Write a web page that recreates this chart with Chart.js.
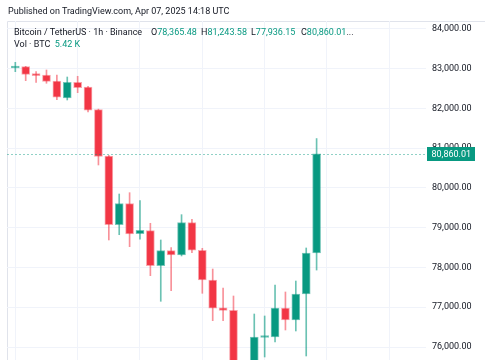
<!DOCTYPE html>
<html>
<head>
<meta charset="utf-8">
<script src="https://cdn.jsdelivr.net/npm/chart.js@4"></script>
<style>
  html, body { margin: 0; padding: 0; background: #ffffff; }
  #wrap { position: relative; width: 485px; height: 360px; overflow: hidden; font-family: Roboto, "Noto Sans", sans-serif; color: #131722; }
  #c { position: absolute; left: 0; top: 0; }
  .t { position: absolute; font-size: 9px; line-height: 12px; white-space: nowrap; }
  .v { color: #089981; }
</style>
</head>
<body>
<div id="wrap">
  <canvas id="c" width="485" height="360"></canvas>
  <div class="t" style="left:8px; top:5px;">Published on TradingView.com, Apr 07, 2025 14:18 UTC</div>
  <div class="t" style="left:14px; top:26px;">Bitcoin / TetherUS · 1h · Binance</div>
  <div class="t" style="left:151px; top:26px;">O<span class="v">78,365.48</span></div>
  <div class="t" style="left:201px; top:26px;">H<span class="v">81,243.58</span></div>
  <div class="t" style="left:251px; top:26px;">L<span class="v">77,936.15</span></div>
  <div class="t" style="left:301px; top:26px;">C<span class="v">80,860.01</span>...</div>
  <div class="t" style="left:14px; top:38px;">Vol · BTC&nbsp;&nbsp;<span class="v">5.42 K</span></div>
</div>
<script>
// Candle index (hourly bars, oldest first)
const candles = [0,1,2,3,4,5,6,7,8,9,10,11,12,13,14,15,16,17,18,19,20,21,22,23,24,25,26,27,28,29];
const opens  = [83019,83052,82868,82843,82692,82264,82659,82541,81970,80805,79077,79605,78851,78926,78045,78423,78314,79127,78433,77686,76984,76923,75520,75280,76240,76252,76981,76679,77334,78365.48];
const highs  = [83162,83060,82926,82969,82843,82792,82810,82560,81985,80820,79849,79882,79681,79112,78692,78498,79329,79212,78483,77962,77484,77283,75640,76830,76780,77560,77384,77660,78491,81243.58];
const lows   = [82926,82700,82659,82634,82222,82214,82398,81912,80579,78692,78825,78524,78710,77794,77150,77416,78290,78373,77351,76662,76662,75380,75050,75200,75749,76126,76428,76403,75774,77936.15];
const closes = [83052,82860,82825,82684,82282,82659,82523,81955,80797,79077,79605,78843,78936,78045,78423,78314,79127,78433,77686,76974,76923,75520,75280,76252,76262,76981,76679,77334,78365.48,80860.01];
const priceTicks = [76000,77000,78000,79000,80000,81000,82000,83000,84000];
const gridCandles = [3,9,15,21,27,33,39];
const lastPrice = 80860.01;

const UP = '#089981', DOWN = '#F23645';
const UP_W = 'rgba(8,153,129,0.6)', DOWN_W = 'rgba(242,54,69,0.55)';
const UP_B = 'rgba(8,153,129,0.55)', DOWN_B = 'rgba(242,54,69,0.45)';

const isUp = candles.map((i) => closes[i] >= opens[i]);
const bodies = candles.map((i) => ({ x: i, y: [opens[i], closes[i]] }));
const wicks = candles.map((i) => ({ x: i, y: [lows[i], highs[i]] }));

const fmt = (v) => v.toLocaleString('en-US', { minimumFractionDigits: 2, maximumFractionDigits: 2 });

const overlay = {
  id: 'overlay',
  beforeDraw(chart) {
    const { ctx } = chart;
    ctx.save();
    ctx.strokeStyle = '#e0e3eb';
    ctx.lineWidth = 1;
    ctx.beginPath();
    ctx.moveTo(7.5, 360);
    ctx.lineTo(7.5, 21.5);
    ctx.lineTo(485, 21.5);
    ctx.stroke();
    ctx.restore();
  },
  afterDraw(chart) {
    const { ctx, chartArea } = chart;
    const ys = chart.scales.y;
    const y = Math.round(ys.getPixelForValue(lastPrice)) + 0.5;
    ctx.save();
    ctx.strokeStyle = 'rgba(8,153,129,0.45)';
    ctx.setLineDash([2, 2]);
    ctx.lineWidth = 1;
    ctx.beginPath();
    ctx.moveTo(chartArea.left, y);
    ctx.lineTo(chartArea.right + 1, y);
    ctx.stroke();
    ctx.setLineDash([]);
    ctx.fillStyle = UP;
    ctx.fillRect(427, y - 7.5, 48, 14);
    ctx.fillStyle = '#ffffff';
    ctx.font = '9px Roboto, "Noto Sans", sans-serif';
    ctx.textBaseline = 'middle';
    ctx.textAlign = 'left';
    ctx.fillText(fmt(lastPrice), 431.5, y);
    ctx.restore();
  }
};

new Chart(document.getElementById('c'), {
  type: 'bar',
  data: {
    datasets: [
      {
        label: 'Body',
        data: bodies,
        backgroundColor: isUp.map((u) => u ? UP : DOWN),
        borderColor: isUp.map((u) => u ? UP_B : DOWN_B),
        borderWidth: 1,
        borderSkipped: false,
        barThickness: 8,
        minBarLength: 2,
        grouped: false,
        order: 0
      },
      {
        label: 'Wick',
        data: wicks,
        backgroundColor: isUp.map((u) => u ? UP_W : DOWN_W),
        borderWidth: 0,
        barThickness: 1,
        grouped: false,
        order: 1
      }
    ]
  },
  options: {
    responsive: false,
    animation: false,
    devicePixelRatio: 1,
    layout: { padding: { left: 7, top: 21, right: 0, bottom: 0 } },
    plugins: { legend: { display: false }, tooltip: { enabled: false } },
    scales: {
      x: {
        type: 'linear',
        min: -0.8,
        max: 39.53,
        offset: false,
        afterBuildTicks: (s) => { s.ticks = gridCandles.map((v) => ({ value: v })); },
        afterFit: (s) => { s.height = 0; s.paddingLeft = 0; s.paddingRight = 0; },
        ticks: { display: false },
        grid: { color: '#f0f3fa', drawTicks: false },
        border: { display: false }
      },
      y: {
        position: 'right',
        min: 75673,
        max: 84201,
        afterBuildTicks: (s) => { s.ticks = priceTicks.map((v) => ({ value: v })); },
        afterFit: (s) => { s.width = 59; s.paddingTop = 0; s.paddingBottom = 0; },
        ticks: {
          padding: 6,
          color: '#131722',
          font: { family: 'Roboto, "Noto Sans", sans-serif', size: 9 },
          callback: (v) => fmt(v)
        },
        grid: { color: '#f0f3fa', drawTicks: false },
        border: { display: false }
      }
    }
  },
  plugins: [overlay]
});
</script>
</body>
</html>
